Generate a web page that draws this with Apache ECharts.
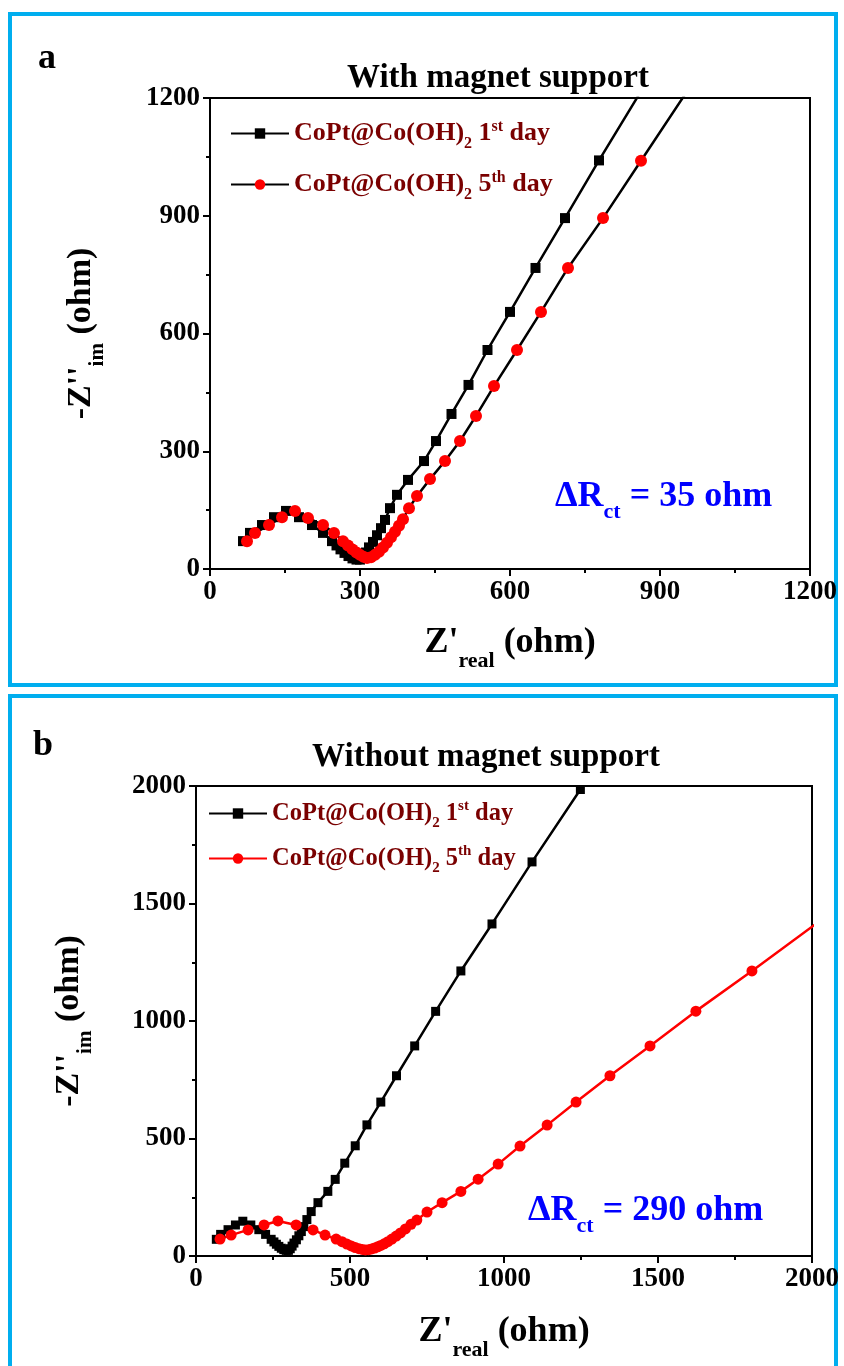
<!DOCTYPE html>
<html><head><meta charset="utf-8">
<script src="https://cdn.jsdelivr.net/npm/echarts@6/dist/echarts.min.js"></script>
<style>html,body{margin:0;padding:0;background:#fff}#c{width:844px;height:1366px}</style>
</head><body><div id="c"></div>
<script>
// ---- data (Z'real, -Z''im) in ohm ----
const day1 = [[66,71],[80,92],[104,112],[128,132],[152,148],[178,132],[204,112],[226,92],[244,71],[253,60],[261,50],[269,41],[277,33],[285,27],[293,24],[300,24],[306,31],[312,42],[318,55],[326,69],[334,86],[342,104],[350,125],[360,155],[374,189],[396,227],[428,275],[452,326],[483,395],[517,469],[555,558],[600,655],[651,767],[710,894],[778,1041],[860,1213],[961,1413],[1091,1677],[1248,1985]];
const day5WithMagnet = [[74,71],[90,92],[118,112],[144,132],[170,148],[196,130],[226,112],[248,92],[266,71],[276,60],[285,50],[293,42],[300,36],[307,31],[314,28],[322,30],[330,36],[338,44],[346,55],[354,67],[362,81],[370,95],[378,110],[386,127],[398,155],[414,186],[440,229],[470,275],[500,326],[532,390],[568,466],[614,558],[662,655],[716,767],[786,894],[862,1040],[952,1213]];
const day5WithoutMagnet = [[78,72],[114,89],[169,111],[221,132],[266,149],[325,132],[380,111],[419,89],[455,72],[474,61],[490,51],[504,43],[517,36],[529,31],[540,28],[550,26],[560,27],[570,30],[580,34],[590,39],[600,45],[611,52],[623,61],[636,72],[650,85],[664,98],[680,115],[698,135],[717,153],[750,187],[799,227],[860,275],[916,327],[981,391],[1052,468],[1140,557],[1234,655],[1344,767],[1474,894],[1623,1042],[1805,1213],[2012,1413]];

const panelTitles = ['With magnet support', 'Without magnet support'];
const panelLetters = ['a', 'b'];
const deltaRct = ['35 ohm', '290 ohm'];
const seriesLabels = ['CoPt@Co(OH)|2|1|st|day', 'CoPt@Co(OH)|2|5|th|day'];
const axisA = {min: 0, max: 1200, interval: 300};
const axisB = {min: 0, max: 2000, interval: 500};

// ---- styling ----
const FONT = '"Liberation Serif","Times New Roman",serif';
function rich(S, color, subDrop, supRise, colorKey) {
  const ck = colorKey || 'color';
  const s = Math.round(S * 0.62);
  const p = Math.max(0, Math.round(2 * (subDrop + 0.34 * (S - s))));
  const q = Math.max(0, Math.round(2 * (supRise - 0.34 * (S - s))));
  const m = {fontFamily: FONT, fontWeight: 'bold', fontSize: S, lineHeight: S};
  const sub = {fontFamily: FONT, fontWeight: 'bold', fontSize: s, lineHeight: s, padding: [p, 0, 0, 0]};
  const sup = {fontFamily: FONT, fontWeight: 'bold', fontSize: s, lineHeight: s, padding: [0, 0, q, 0]};
  m[ck] = color; sub[ck] = color; sup[ck] = color;
  return {m: m, sub: sub, sup: sup};
}
function legendText(lbl) {
  const t = lbl.split('|');
  return '{m|' + t[0] + '}{sub|' + t[1] + '}{m| ' + t[2] + '}{sup|' + t[3] + '}{m| ' + t[4] + '}';
}
const legendNames = {
  'a1': legendText(seriesLabels[0]), 'a5': legendText(seriesLabels[1]),
  'b1': legendText(seriesLabels[0]), 'b5': legendText(seriesLabels[1])
};

const grids = [
  {left: 210, top: 98, width: 600, height: 471},
  {left: 196, top: 786, width: 616, height: 470}
];

function xAxis(idx, rng, gap) {
  return {
    type: 'value', gridIndex: idx, min: rng.min, max: rng.max, interval: rng.interval,
    axisLine: {show: true, lineStyle: {color: '#000', width: 2}},
    axisTick: {show: true, inside: false, length: 7, lineStyle: {width: 2, color: '#000'}},
    minorTick: {show: true, splitNumber: 2, length: 4, lineStyle: {width: 2, color: '#000'}},
    splitLine: {show: false},
    axisLabel: {fontFamily: FONT, fontWeight: 'bold', fontSize: 27, color: '#000', margin: 10, formatter: v => String(v)},
    name: '{m|Z\'}{sub|real}{m| (ohm)}',
    nameLocation: 'middle', nameGap: gap, nameMoveOverlap: false,
    nameTextStyle: {rich: rich(36, '#000', 13, 0)}
  };
}
function yAxis(idx, rng, gap) {
  return {
    type: 'value', gridIndex: idx, min: rng.min, max: rng.max, interval: rng.interval,
    axisLine: {show: true, lineStyle: {color: '#000', width: 2}},
    axisTick: {show: true, inside: false, length: 7, lineStyle: {width: 2, color: '#000'}},
    minorTick: {show: true, splitNumber: 2, length: 4, lineStyle: {width: 2, color: '#000'}},
    splitLine: {show: false},
    axisLabel: {fontFamily: FONT, fontWeight: 'bold', fontSize: 27, color: '#000', margin: 10, formatter: v => String(v)},
    name: '{m|-Z\'\'}{sub|im}{m| (ohm)}',
    nameLocation: 'middle', nameGap: gap, nameRotate: 90,
    nameTextStyle: {rich: rich(34, '#000', 12, 0)}
  };
}

function ser(name, idx, data, symbol, size, fill, lineColor) {
  return {
    name: name, type: 'line', xAxisIndex: idx, yAxisIndex: idx, data: data,
    symbol: symbol, symbolSize: size, showSymbol: true, clip: true,
    itemStyle: {color: fill, borderWidth: 0},
    lineStyle: {color: lineColor, width: 2.5},
    emphasis: {disabled: true}, animation: false
  };
}

const legendRich = (S) => rich(S, '#7a0000', 7, 10);
function legend(names, left, top, gap, S) {
  return {
    orient: 'vertical', left: left, top: top, itemGap: gap,
    itemWidth: 58, itemHeight: 13, data: names,
    formatter: (n) => legendNames[n],
    textStyle: {rich: legendRich(S)},
    selectedMode: false
  };
}

function bigText(txt, x, y, size) {
  return {type: 'text', left: x, top: y, style: {text: txt, fontFamily: FONT, fontWeight: 'bold', fontSize: size, fill: '#000'}};
}
function centeredText(txt, cx, y, size) {
  return {type: 'text', x: cx, y: y, style: {text: txt, fontFamily: FONT, fontWeight: 'bold', fontSize: size, fill: '#000', align: 'center', verticalAlign: 'middle'}};
}
function deltaText(val, x, y) {
  return {type: 'text', x: x, y: y, style: {text: '{m|\u0394R}{sub|ct}{m| = ' + val + '}', rich: rich(36, '#0000ff', 10, 0, 'fill'), fill: '#0000ff', verticalAlign: 'middle', align: 'left'}};
}

const chart = echarts.init(document.getElementById('c'), null, {renderer: 'canvas'});
chart.setOption({
  backgroundColor: '#fff',
  animation: false,
  grid: grids.map(g => Object.assign({show: true, borderColor: '#000', borderWidth: 2, backgroundColor: 'transparent', containLabel: false, outerBoundsMode: 'none'}, g)),
  xAxis: [xAxis(0, axisA, 56), xAxis(1, axisB, 58)],
  yAxis: [yAxis(0, axisA, 112), yAxis(1, axisB, 110)],
  legend: [
    legend(['a1', 'a5'], 225, 110, 14, 26),
    legend(['b1', 'b5'], 203, 791, 10, 24.5)
  ],
  series: [
    ser('a1', 0, day1, 'rect', 10, '#000', '#000'),
    ser('a5', 0, day5WithMagnet, 'circle', 12, '#ff0000', '#000'),
    ser('b1', 1, day1, 'rect', 9, '#000', '#000'),
    ser('b5', 1, day5WithoutMagnet, 'circle', 11, '#ff0000', '#ff0000')
  ],
  graphic: [
    {type: 'rect', shape: {x: 10, y: 14, width: 826, height: 671}, style: {fill: 'none', stroke: '#00aeef', lineWidth: 4}, silent: true},
    {type: 'rect', shape: {x: 10, y: 696, width: 826, height: 690}, style: {fill: 'none', stroke: '#00aeef', lineWidth: 4}, silent: true},
    bigText(panelLetters[0], 38, 41, 36),
    bigText(panelLetters[1], 33, 728, 36),
    centeredText(panelTitles[0], 498, 78, 33),
    centeredText(panelTitles[1], 486, 757, 33),
    deltaText(deltaRct[0], 555, 497),
    deltaText(deltaRct[1], 528, 1211)
  ]
});
</script></body></html>
